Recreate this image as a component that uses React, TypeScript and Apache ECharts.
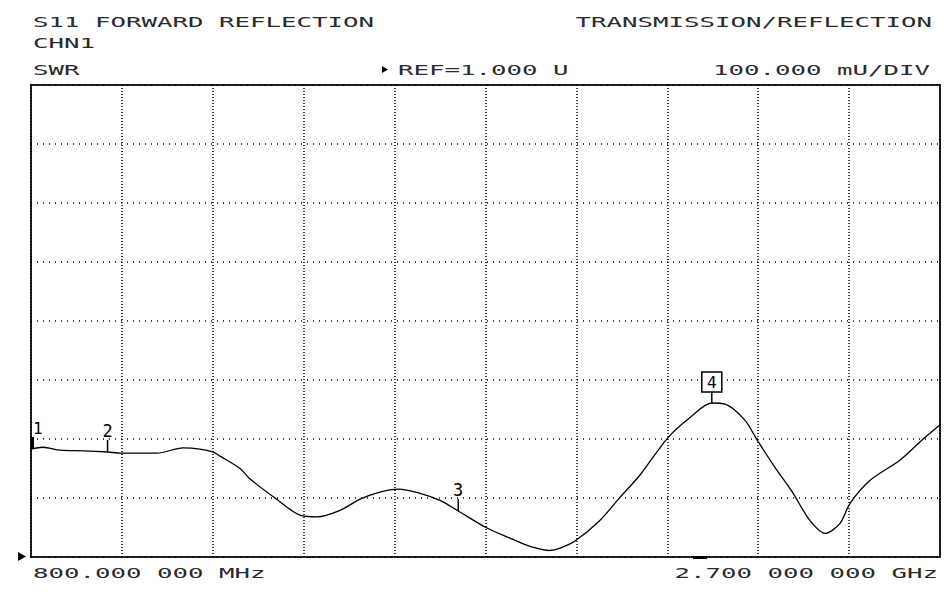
import React, { useEffect, useRef } from "react";
import * as echarts from "echarts";

const freqsMHz = [800, 825, 861, 910, 960, 988, 1063, 1118, 1153, 1180, 1195, 1237, 1258, 1310, 1362, 1398, 1446, 1488, 1529, 1567, 1613, 1655, 1693, 1751, 1801, 1843, 1885, 1906, 1937, 1989, 2031, 2073, 2131, 2177, 2223, 2251, 2292, 2318, 2355, 2393, 2428, 2460, 2491, 2512, 2554, 2616, 2658, 2700];
const swrValues = [1.183, 1.186, 1.181, 1.180, 1.178, 1.176, 1.176, 1.185, 1.183, 1.178, 1.171, 1.150, 1.132, 1.100, 1.071, 1.068, 1.079, 1.098, 1.110, 1.115, 1.108, 1.096, 1.078, 1.050, 1.032, 1.018, 1.011, 1.015, 1.027, 1.062, 1.101, 1.139, 1.202, 1.236, 1.261, 1.259, 1.232, 1.198, 1.152, 1.108, 1.062, 1.040, 1.057, 1.091, 1.130, 1.164, 1.195, 1.224];

const markerFreqs = [800, 960, 1693, 2223];
const markerValues = [1.183, 1.178, 1.078, 1.261];
const markerLabels = ["1", "2", "3", "4"];

const startFreqLabel = "800.000 000 MHz";
const stopFreqLabel = "2.700 000 000 GHz";
const headerLeft = "S11 FORWARD REFLECTION";
const headerRight = "TRANSMISSION/REFLECTION";
const channelLabel = "CHN1";
const formatLabel = "SWR";
const refLabel = "REF=1.000 U";
const scaleLabel = "100.000 mU/DIV";

const FONT = "DejaVu Sans Mono";
const SX = 1.84;
const TXT = "#2a2a2a";

function hdr(text: string, x: number, y: number, align: "left" | "right") {
  return {
    type: "text",
    x,
    y,
    scaleX: SX,
    scaleY: 1.06,
    style: {
      text,
      x: 0,
      y: 0,
      fill: TXT,
      font: `14px "${FONT}"`,
      textAlign: align,
      textVerticalAlign: "middle",
    },
  };
}

export default function App() {
  const ref = useRef<HTMLDivElement>(null);
  useEffect(() => {
    if (!ref.current) return;
    const chart = echarts.init(ref.current, null, { renderer: "svg" });
    const markerData = markerFreqs.map((f, i) => [f, markerValues[i], i]);
    chart.setOption({
      animation: false,
      backgroundColor: "#fff",
      grid: {
        left: 31,
        right: 10,
        top: 85,
        bottom: 35,
        show: true,
        borderColor: "#222",
        borderWidth: 2,
        backgroundColor: "transparent",
      },
      xAxis: [
        {
          type: "value",
          min: 800,
          max: 2700,
          axisLine: { show: false },
          axisTick: { show: false },
          axisLabel: { show: false },
          splitLine: { show: false },
        },
        {
          type: "value",
          min: 0,
          max: 10,
          interval: 1,
          axisLine: { show: false },
          axisTick: { show: false },
          axisLabel: { show: false },
          splitLine: { show: true, lineStyle: { color: "#000", width: 1.5, type: [1, 2] } },
        },
      ],
      yAxis: {
        type: "value",
        min: 1.0,
        max: 1.8,
        interval: 0.1,
        axisLine: { show: false },
        axisTick: { show: false },
        axisLabel: { show: false },
        splitLine: { show: true, lineStyle: { color: "#000", width: 1.5, type: [1, 5] } },
      },
      series: [
        {
          type: "line",
          xAxisIndex: 0,
          data: freqsMHz.map((f, i) => [f, swrValues[i]]),
          smooth: 0.3,
          symbol: "none",
          lineStyle: { color: "#000", width: 1.3 },
        },
        {
          type: "custom",
          xAxisIndex: 0,
          data: markerData,
          renderItem: (params: any, api: any) => {
            const pt = api.coord([api.value(0), api.value(1)]);
            const idx = api.value(2);
            const label = markerLabels[idx];
            const children: any[] = [];
            if (idx === 0) {
              children.push({
                type: "rect",
                shape: { x: pt[0], y: pt[1] - 12, width: 3, height: 12 },
                style: { fill: "#000" },
              });
              children.push({
                type: "text",
                style: { text: label, x: pt[0] + 2, y: pt[1] - 13, fill: "#000", font: `16px "${FONT}"`, textAlign: "left", textVerticalAlign: "bottom" },
              });
            } else if (idx === 3) {
              children.push({
                type: "line",
                shape: { x1: pt[0], y1: pt[1], x2: pt[0], y2: pt[1] - 11 },
                style: { stroke: "#000", lineWidth: 1.5 },
              });
              children.push({
                type: "rect",
                shape: { x: pt[0] - 10, y: pt[1] - 31, width: 20, height: 20 },
                style: { fill: "#fff", stroke: "#000", lineWidth: 1.5 },
              });
              children.push({
                type: "text",
                style: { text: label, x: pt[0], y: pt[1] - 21, fill: "#000", font: `16px "${FONT}"`, textAlign: "center", textVerticalAlign: "middle" },
              });
            } else {
              children.push({
                type: "line",
                shape: { x1: pt[0], y1: pt[1], x2: pt[0], y2: pt[1] - 12 },
                style: { stroke: "#000", lineWidth: 1.5 },
              });
              children.push({
                type: "text",
                style: { text: label, x: pt[0], y: pt[1] - 12, fill: "#000", font: `17px "${FONT}"`, textAlign: "center", textVerticalAlign: "bottom" },
              });
            }
            return { type: "group", children };
          },
          z: 5,
        },
      ],
      graphic: [
        hdr(headerLeft, 33, 22, "left"),
        hdr(headerRight, 932, 22, "right"),
        hdr(channelLabel, 33, 43, "left"),
        hdr(formatLabel, 33, 70, "left"),
        hdr(refLabel, 398, 70, "left"),
        hdr(scaleLabel, 930, 70, "right"),
        hdr(startFreqLabel, 33, 573, "left"),
        hdr(stopFreqLabel, 938, 573, "right"),
        {
          type: "polygon",
          shape: { points: [[382, 66], [388, 69.5], [382, 73]] },
          style: { fill: "#000" },
        },
        {
          type: "polygon",
          shape: { points: [[18, 552], [26, 556.5], [18, 561]] },
          style: { fill: "#000" },
        },
        {
          type: "rect",
          shape: { x: 693, y: 556, width: 14, height: 3 },
          style: { fill: "#000" },
        },
      ],
    });
    return () => chart.dispose();
  }, []);
  return <div ref={ref} style={{ position: "fixed", left: 0, top: 0, width: 950, height: 592 }} />;
}
